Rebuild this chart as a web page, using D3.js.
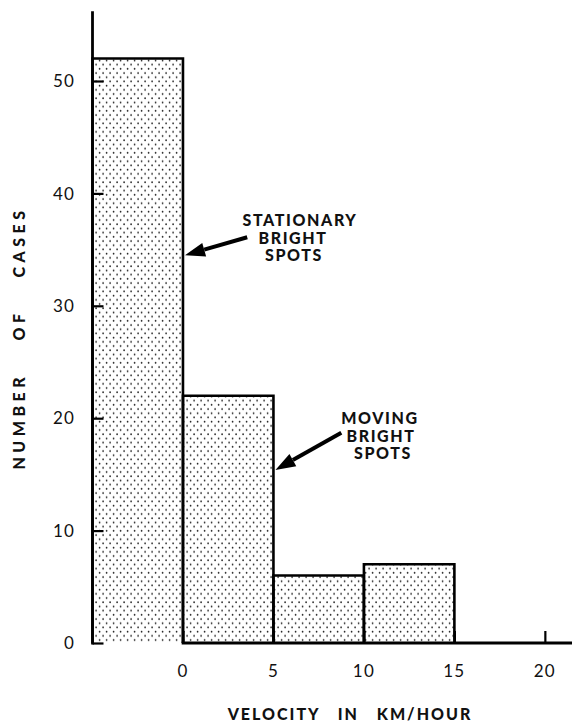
<!DOCTYPE html>
<html>
<head>
<meta charset="utf-8">
<script src="https://cdn.jsdelivr.net/npm/d3@7/dist/d3.min.js"></script>
<style>
  html, body { margin: 0; padding: 0; background: #fff; }
  svg { display: block; }
</style>
</head>
<body>
<div id="chart"></div>
<script>
// ---- data ----
const binStarts = [-5, 0, 5, 10];
const binEnds   = [0, 5, 10, 15];
const counts    = [52, 22, 6, 7];
const xTickValues = [0, 5, 10, 15, 20];
const yTickValues = [0, 10, 20, 30, 40, 50];
const xTitle = "VELOCITY IN KM/HOUR";
const yTitle = "NUMBER OF CASES";
const annoLines = [["STATIONARY", "BRIGHT", "SPOTS"], ["MOVING", "BRIGHT", "SPOTS"]];
const annoTip  = [[0, 34.5], [5, 15.4]];      // data units
const annoTail = [[3.55, 36.1], [8.75, 18.7]]; // data units

// ---- layout ----
const W = 572, H = 722;
const svg = d3.select("#chart").append("svg").attr("width", W).attr("height", H);

const x = d3.scaleLinear().domain([-5, 21.5]).range([92.5, 572]);
const y = d3.scaleLinear().domain([0, 50]).range([643, 81]);
const yTop = 56.2;

const defs = svg.append("defs");
const pat = defs.append("pattern").attr("id", "dots")
  .attr("patternUnits", "userSpaceOnUse").attr("width", 7).attr("height", 8.4);
pat.append("rect").attr("width", 7).attr("height", 8.4).attr("fill", "#fff");
pat.append("circle").attr("cx", 1.6).attr("cy", 1.6).attr("r", 0.85).attr("fill", "#222");
pat.append("circle").attr("cx", 5.1).attr("cy", 5.8).attr("r", 0.85).attr("fill", "#222");

const bars = binStarts.map((s, i) => ({ s, e: binEnds[i], v: counts[i] }));

// fills
svg.append("g").selectAll("rect").data(bars).join("rect")
  .attr("x", d => x(d.s)).attr("y", d => y(d.v))
  .attr("width", d => x(d.e) - x(d.s)).attr("height", d => y(0) - y(d.v))
  .attr("fill", "url(#dots)");

// outlines (open bottom)
svg.append("g").selectAll("path").data(bars).join("path")
  .attr("d", d => `M${x(d.s)},${y(0)}V${y(d.v)}H${x(d.e)}V${y(0)}`)
  .attr("fill", "none").attr("stroke", "#000").attr("stroke-width", 2.6)
  .attr("stroke-linejoin", "miter");

// y axis
const yAxis = d3.axisRight(y).tickValues(yTickValues).tickSize(11).tickFormat("");
const gy = svg.append("g").attr("transform", `translate(${x(-5)},0)`).call(yAxis);
gy.select(".domain").remove();
gy.selectAll(".tick line").attr("stroke", "#000").attr("stroke-width", 2.2);
svg.append("line").attr("x1", x(-5)).attr("x2", x(-5)).attr("y1", y(0) + 1.5).attr("y2", y(yTop))
  .attr("stroke", "#000").attr("stroke-width", 2.8);

svg.append("g").selectAll("text").data(yTickValues).join("text")
  .attr("x", 75).attr("y", d => y(d)).attr("dy", "0.36em")
  .attr("text-anchor", "end")
  .attr("font-family", "Lato, 'Open Sans', sans-serif").attr("font-size", 17)
  .attr("letter-spacing", 1.2).attr("fill", "#111")
  .text(d => d);

// x axis
const xAxis = d3.axisTop(x).tickValues(xTickValues).tickSize(12).tickFormat("");
const gx = svg.append("g").attr("transform", `translate(0,${y(0)})`).call(xAxis);
gx.select(".domain").remove();
gx.selectAll(".tick line").attr("stroke", "#000").attr("stroke-width", 2.2);
svg.append("line").attr("x1", x(0) - 1.3).attr("x2", x.range()[1]).attr("y1", y(0)).attr("y2", y(0))
  .attr("stroke", "#000").attr("stroke-width", 2.8);

svg.append("g").selectAll("text").data(xTickValues).join("text")
  .attr("x", d => x(d)).attr("y", 677)
  .attr("text-anchor", "middle")
  .attr("font-family", "Lato, 'Open Sans', sans-serif").attr("font-size", 17)
  .attr("letter-spacing", 1.2).attr("fill", "#111")
  .text(d => d);

// titles
const boldFont = "Lato, 'DejaVu Sans', sans-serif";
svg.append("text").attr("x", 350).attr("y", 720)
  .attr("text-anchor", "middle").attr("font-family", boldFont).attr("font-weight", 900)
  .attr("font-size", 16).attr("letter-spacing", 2).attr("word-spacing", 12)
  .attr("fill", "#111").text(xTitle);

svg.append("text").attr("transform", "translate(25,338) rotate(-90)")
  .attr("text-anchor", "middle").attr("font-family", boldFont).attr("font-weight", 900)
  .attr("font-size", 16).attr("letter-spacing", 4.5).attr("word-spacing", 24)
  .attr("fill", "#111").text(yTitle);

// annotations
const annoCenters = [[300, 293, 294], [380, 381, 383]];
const annoBase = [226, 424];
annoLines.forEach((lines, k) => {
  svg.append("g").selectAll("text").data(lines).join("text")
    .attr("x", (d, i) => annoCenters[k][i]).attr("y", (d, i) => annoBase[k] + i * 17.7)
    .attr("text-anchor", "middle").attr("font-family", boldFont).attr("font-weight", 900)
    .attr("font-size", 16).attr("letter-spacing", 1.6)
    .attr("fill", "#111").text(d => d);

  const [tx, ty] = [x(annoTip[k][0]) + 2, y(annoTip[k][1])];
  const [sx, sy] = [x(annoTail[k][0]), y(annoTail[k][1])];
  const ang = Math.atan2(ty - sy, tx - sx);
  const L = 20, Wd = 7;
  const bx = tx - L * Math.cos(ang), by = ty - L * Math.sin(ang);
  svg.append("line").attr("x1", sx).attr("y1", sy).attr("x2", bx).attr("y2", by)
    .attr("stroke", "#000").attr("stroke-width", 4);
  const p1 = [bx + Wd * Math.sin(ang), by - Wd * Math.cos(ang)];
  const p2 = [bx - Wd * Math.sin(ang), by + Wd * Math.cos(ang)];
  svg.append("path").attr("d", `M${tx},${ty}L${p1}L${p2}Z`).attr("fill", "#000");
});
</script>
</body>
</html>
